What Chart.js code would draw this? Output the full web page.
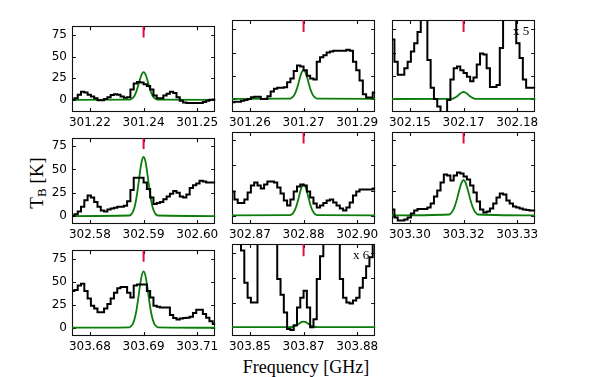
<!DOCTYPE html>
<html><head><meta charset="utf-8">
<script src="https://cdn.jsdelivr.net/npm/chart.js@4/dist/chart.umd.min.js"></script>
<style>
html,body{margin:0;padding:0;background:#fff;}
body{width:598px;height:377px;position:relative;overflow:hidden;}
canvas{position:absolute;}
.lbl{position:absolute;font-family:"Liberation Serif","DejaVu Serif",serif;color:#000;white-space:nowrap;line-height:1;}
#xlab{font-size:18px;left:306px;top:358px;transform:translateX(-50%);}
#ylab{font-size:19px;left:37px;top:183px;transform:translate(-50%,-50%) rotate(-90deg);}
#ylab sub{font-size:13px;vertical-align:-3px;}
</style></head>
<body>
<div class="lbl" id="xlab">Frequency [GHz]</div>
<div class="lbl" id="ylab">T<sub>B</sub> [K]</div>
<script>
// ---- panel centres (GHz) and x tick labels ----
const centers = [301.2395, 301.2705, 302.1695, 302.5895, 302.8805, 303.3195, 303.6895, 303.8695];
const tickLabels1 = ["301.22", "301.24", "301.25"];
const tickLabels2 = ["301.26", "301.27", "301.29"];
const tickLabels3 = ["302.15", "302.17", "302.18"];
const tickLabels4 = ["302.58", "302.59", "302.60"];
const tickLabels5 = ["302.87", "302.88", "302.90"];
const tickLabels6 = ["303.30", "303.32", "303.33"];
const tickLabels7 = ["303.68", "303.69", "303.71"];
const tickLabels8 = ["303.85", "303.87", "303.88"];
const yTicks = [0, 25, 50, 75];
const scaleNotes = ["", "", "x 5", "", "", "", "", "x 6"];

// ---- spectral channels: first channel offset from centre and channel width (GHz) ----
const chanOffset0 = -0.0207;
const chanWidth = 0.00092;

// ---- observed spectra (K), one value per channel ----
const spec1 = [0,0,2,6,9.5,8.5,6,4,2,-0.5,-0.5,1,3,5.5,6.5,6,4,2.5,3,12,19,20.5,20,18,16,12,5,2,2,5,7,9.5,8,3,-1,-3,-3.5,-3.5,-3.5,-3.5,-3.5,-2.5,-1,0,0.5,0.5];
const spec2 = [-3.5,-3.5,-3,-3,-2,-1,0,2,2.5,2.5,0,0,3,8,11,12,12,12.5,18,22,30,36,35,31,25,22,21,40,45,47,50,51,52,52,52,52,53,52,40,31,20,5,1.5,1.5,7,7];
const spec3 = [64,64,40,26,26,33,40,51,60,72,95,95,42,12,0,-8,-20,-20,-1,21,33,35,31,28,24,19,23,37,49,48,33,13,13,15,55,95,120,120,120,60,44,21,12,12,12,12];
const spec4 = [0,0,2,5,10,17,22,20,15,10,6,5,7,8,9,10,10,11,16,28,41,41,41,36,29,20,13,14,15,18,21,24,27,25,21,20,23,30,33,35,38,37,36,36,36,36];
const spec5 = [24,24,16,12.5,12.5,16,23,30,33,30,27,31,34,34,33,28,22,15,10,16,24,29,31,30,24,18,12,8,10,12.5,15,16,13,10,7,5,8,13,20,24,26,26,26,26,27,27];
const spec6 = [6,6,-2,-5,-5,-4,-2,2,5,6.5,6.5,6.5,8,12,19,25,33,41,40,35,40,43,42,39,36,30,23,14,6,3,4,7,12,18,22,21,15,12,9,8,7,6,5.5,5,5,5];
const spec7 = [40,40,41,46,48,40,32,24,21,17,17,21,26,32,38,43,44.5,44.5,38,33,46,47,47,47,40,33,24,23,22,22,22,14,10.5,9,10,10.5,11,12,16,19.5,19.5,15,11,7,4,4];
const spec8 = [120,120,120,120,78,45,30,25,25,120,120,120,120,120,120,49,33,15,-2,-3,2,20,30,37,20,0,8,49,72,120,120,120,120,120,49,30,25,24,27,30,40,50,62,71,120,120];

// ---- fitted model (green), sampled at offsets from the centre (GHz) ----
const modelOffsets = [-0.025,-0.004,-0.0035,-0.003,-0.0025,-0.002,-0.0015,-0.001,-0.0005,0,0.0005,0.001,0.0015,0.002,0.0025,0.003,0.0035,0.004,0.025];
const model1 = [0,0.3,0.9,2.2,5.0,9.8,16.4,23.8,29.7,32,29.7,23.8,16.4,9.8,5.0,2.2,0.9,0.3,0];
const model2 = [0,0.3,0.8,2.2,4.9,9.5,15.9,23.1,28.8,31,28.8,23.1,15.9,9.5,4.9,2.2,0.8,0.3,0];
const model3 = [0,0.1,0.2,0.5,1.2,2.3,3.9,5.6,7.0,7.5,7.0,5.6,3.9,2.3,1.2,0.5,0.2,0.1,0];
const model4 = [0,0.6,1.7,4.4,10.0,19.4,32.6,47.2,59.0,63.5,59.0,47.2,32.6,19.4,10.0,4.4,1.7,0.6,0];
const model5 = [0,0.3,0.8,2.2,4.9,9.5,15.9,23.1,28.8,31,28.8,23.1,15.9,9.5,4.9,2.2,0.8,0.3,0];
const model6 = [0,1.0,2.4,4.9,8.9,14.5,21.2,28.0,33.3,35.5,33.3,28.0,21.2,14.5,8.9,4.9,2.4,1.0,0];
const model7 = [0,0.5,1.7,4.3,9.7,18.8,31.6,45.8,57.1,61.5,57.1,45.8,31.6,18.8,9.7,4.3,1.7,0.5,0];
const model8 = [0,0.05,0.15,0.4,0.9,1.7,2.9,4.2,5.3,5.7,5.3,4.2,2.9,1.7,0.9,0.4,0.15,0.05,0];

// ---- line marker (red) extent in K ----
const markerTop = 86, markerBottom = 72;

// ---- layout ----
const colLeft = [72, 232, 392];
const rowTop = [20, 132, 244];
const plotW = 145, plotH = 92;
const rowYMin = [-14, -8.5, -9];
const rowYMax = [85, 83.5, 84.5];

const specs = [spec1,spec2,spec3,spec4,spec5,spec6,spec7,spec8];
const models = [model1,model2,model3,model4,model5,model6,model7,model8];
const tlabels = [tickLabels1,tickLabels2,tickLabels3,tickLabels4,tickLabels5,tickLabels6,tickLabels7,tickLabels8];

const framePlugin = {
  id: 'frame',
  beforeDatasetsDraw(chart, args, opts) {
    const {ctx, chartArea:a, scales} = chart;
    ctx.save();
    ctx.strokeStyle = '#111';
    ctx.lineWidth = 1.1;
    ctx.strokeRect(Math.round(a.left)+0.5, Math.round(a.top)+0.5, Math.round(a.right-a.left)-1, Math.round(a.bottom-a.top)-1);
    const tl = 4;
    scales.x.ticks.forEach(t => {
      const x = Math.round(scales.x.getPixelForValue(t.value)) + 0.5;
      ctx.beginPath();
      ctx.moveTo(x, a.bottom); ctx.lineTo(x, a.bottom - tl);
      ctx.moveTo(x, a.top); ctx.lineTo(x, a.top + tl);
      ctx.stroke();
    });
    scales.y.ticks.forEach(t => {
      const y = Math.round(scales.y.getPixelForValue(t.value)) + 0.5;
      ctx.beginPath();
      ctx.moveTo(a.left, y); ctx.lineTo(a.left + tl, y);
      ctx.moveTo(a.right, y); ctx.lineTo(a.right - tl, y);
      ctx.stroke();
    });
    ctx.restore();
  },
  afterDatasetsDraw(chart, args, opts) {
    const {ctx, chartArea:a} = chart;
    if (opts.note) {
      ctx.save();
      ctx.fillStyle = '#000';
      ctx.font = '13px "Liberation Serif", serif';
      ctx.textAlign = 'right';
      ctx.textBaseline = 'middle';
      ctx.fillText(opts.note, a.right - 6, a.top + 12);
      ctx.restore();
    }
  }
};

const PADL = 40, PADT = 6, PADR = 6, PADB = 24;

function makePanel(i) {
  const col = i % 3, row = Math.floor(i / 3);
  const c = centers[i];
  const W = plotW + PADL + PADR, H = plotH + PADT + PADB;
  const cv = document.createElement('canvas');
  cv.width = W; cv.height = H;
  cv.style.width = W + 'px'; cv.style.height = H + 'px';
  cv.style.left = (colLeft[col] - PADL) + 'px';
  cv.style.top = (rowTop[row] - PADT) + 'px';
  document.body.appendChild(cv);
  const specPts = specs[i].map((v, k) => ({x: c + chanOffset0 + k * chanWidth, y: v}));
  const modelPts = models[i].map((v, k) => ({x: c + modelOffsets[k], y: v}));
  const labels = tlabels[i];
  new Chart(cv, {
    type: 'line',
    data: { datasets: [
      { data: specPts, borderColor: '#000', borderWidth: 2, stepped: 'middle', pointRadius: 0, fill: false },
      { data: modelPts, borderColor: '#0a7d0a', borderWidth: 1.8, cubicInterpolationMode: 'monotone', pointRadius: 0, fill: false },
      { data: [{x: c, y: markerTop}, {x: c, y: markerBottom}], borderColor: '#e0103c', borderWidth: 2, pointRadius: 0, fill: false }
    ]},
    options: {
      responsive: false, animation: false, devicePixelRatio: 1,
      layout: { padding: { left: 0, top: PADT, right: PADR, bottom: 0 } },
      plugins: { legend: { display: false }, tooltip: { enabled: false }, frame: { note: scaleNotes[i] } },
      scales: {
        x: {
          type: 'linear', min: c - 0.02, max: c + 0.02,
          afterBuildTicks: s => { s.ticks = [{value: c - 0.015}, {value: c}, {value: c + 0.015}]; },
          afterFit: s => { s.height = PADB; },
          grid: { display: false, drawTicks: false }, border: { display: false },
          ticks: { autoSkip: false, maxRotation: 0, padding: 4, color: '#000',
                   font: { family: 'DejaVu Sans', size: 12 },
                   callback: (v, idx) => labels[idx] }
        },
        y: {
          type: 'linear', min: rowYMin[row], max: rowYMax[row],
          afterBuildTicks: s => { s.ticks = yTicks.map(v => ({value: v})); },
          afterFit: s => { s.width = PADL; },
          grid: { display: false, drawTicks: false }, border: { display: false },
          ticks: { display: col === 0, padding: 5, color: '#000',
                   font: { family: 'DejaVu Sans', size: 12 } }
        }
      }
    },
    plugins: [framePlugin]
  });
}
for (let i = 0; i < 8; i++) makePanel(i);
</script>
</body></html>
